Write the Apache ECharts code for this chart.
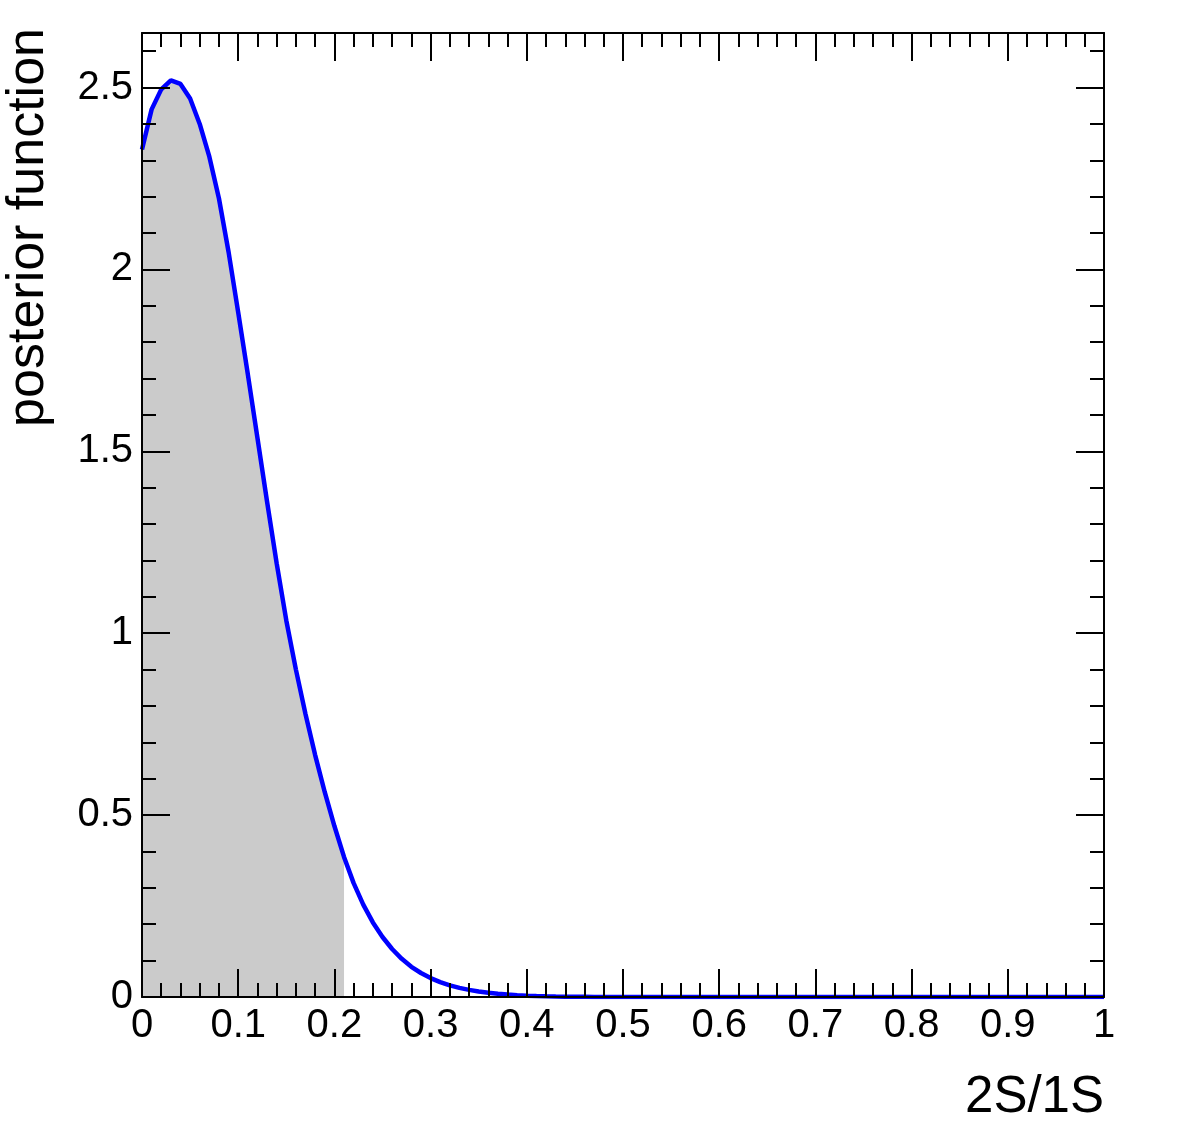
<!DOCTYPE html>
<html>
<head>
<meta charset="utf-8">
<script src="https://cdn.jsdelivr.net/npm/echarts@6/dist/echarts.min.js"></script>
<style>
html,body{margin:0;padding:0;background:#fff;}
#chart{width:1181px;height:1133px;}
</style>
</head>
<body>
<div id="chart"></div>
<script>
// ---- data ----
const xValues = [
  0.00,0.01,0.02,0.03,0.04,0.05,0.06,0.07,0.08,0.09,
  0.10,0.11,0.12,0.13,0.14,0.15,0.16,0.17,0.18,0.19,
  0.20,0.21,0.22,0.23,0.24,0.25,0.26,0.27,0.28,0.29,
  0.30,0.31,0.32,0.33,0.34,0.35,0.36,0.37,0.38,0.39,
  0.40,0.41,0.42,0.43,0.44,0.45,0.46,0.47,0.48,0.49,
  0.50,0.51,0.52,0.53,0.54,0.55,0.56,0.57,0.58,0.59,
  0.60,0.61,0.62,0.63,0.64,0.65,0.66,0.67,0.68,0.69,
  0.70,0.71,0.72,0.73,0.74,0.75,0.76,0.77,0.78,0.79,
  0.80,0.81,0.82,0.83,0.84,0.85,0.86,0.87,0.88,0.89,
  0.90,0.91,0.92,0.93,0.94,0.95,0.96,0.97,0.98,0.99,
  1.00
];
const posterior = [
  2.33,2.44,2.495,2.52,2.51,2.47,2.40,2.31,2.195,2.048,
  1.882,1.712,1.537,1.362,1.192,1.035,0.9,0.777,0.665,0.563,
  0.47,0.385,0.313,0.254,0.205,0.165,0.132,0.105,0.083,0.066,
  0.052,0.041,0.032,0.025,0.0195,0.015,0.0115,0.0088,0.0067,0.005,
  0.0037,0.0027,0.002,0.0014,0.001,0.0007,0.0005,0.0003,0.0002,0.0001,
  0,0,0,0,0,0,0,0,0,0,
  0,0,0,0,0,0,0,0,0,0,
  0,0,0,0,0,0,0,0,0,0,
  0,0,0,0,0,0,0,0,0,0,
  0,0,0,0,0,0,0,0,0,0,
  0
];
const shadeLimit = 0.21;
const xTitle = '2S/1S';
const yTitle = 'posterior function';

const curve = xValues.map((x, i) => [x, posterior[i]]);
const shaded = curve.filter(p => p[0] <= shadeLimit + 1e-9);

const FONT = '"Liberation Sans", Arial, Helvetica, sans-serif';
const axisLineStyle = { color: '#000', width: 2 };

function xAx(pos, labels) {
  return {
    type: 'value', position: pos, min: 0, max: 1, interval: 0.1, z: 10,
    axisLine: { show: true, onZero: false, lineStyle: axisLineStyle },
    axisTick: { show: true, inside: true, length: 28, lineStyle: { color: '#000', width: 2 } },
    minorTick: { show: true, splitNumber: 5, length: 14, lineStyle: { color: '#000', width: 2 } },
    axisLabel: { show: labels, color: '#000', fontSize: 40, fontFamily: FONT, margin: 9 },
    splitLine: { show: false }, minorSplitLine: { show: false }
  };
}
function yAx(pos, interval, len, line, labels) {
  return {
    type: 'value', position: pos, min: 0, max: 2.65, interval: interval, z: 10,
    axisLine: { show: line, onZero: false, lineStyle: axisLineStyle },
    axisTick: { show: true, inside: true, length: len, lineStyle: { color: '#000', width: 2 } },
    axisLabel: { show: labels, color: '#000', fontSize: 40, fontFamily: FONT, margin: 9, showMaxLabel: false },
    splitLine: { show: false }
  };
}

const chart = echarts.init(document.getElementById('chart'), null, { renderer: 'canvas' });
chart.setOption({
  animation: false,
  backgroundColor: '#fff',
  grid: { left: 142, right: 77, top: 33, bottom: 136, containLabel: false, outerBoundsMode: 'none' },
  xAxis: [xAx('bottom', true), xAx('top', false)],
  yAxis: [
    yAx('left', 0.5, 28, true, true),
    yAx('left', 0.1, 14, false, false),
    yAx('right', 0.5, 28, true, false),
    yAx('right', 0.1, 14, false, false)
  ],
  series: [
    {
      type: 'line', xAxisIndex: 0, yAxisIndex: 0, data: shaded, z: 1,
      symbol: 'none', smooth: false,
      lineStyle: { width: 0, opacity: 0 },
      areaStyle: { color: '#cbcbcb', opacity: 1 }
    },
    {
      type: 'line', xAxisIndex: 0, yAxisIndex: 0, data: curve, z: 2,
      symbol: 'none', smooth: false,
      lineStyle: { color: '#0000ff', width: 4.5 }
    }
  ],
  graphic: [
    {
      type: 'text', x: 1104, y: 1098, z: 20,
      style: { text: xTitle, font: '51px ' + FONT, fill: '#000', align: 'right', verticalAlign: 'middle' }
    },
    {
      type: 'text', x: 29, y: 28, rotation: Math.PI / 2, z: 20,
      style: { text: yTitle, font: '52px ' + FONT, fill: '#000', align: 'right', verticalAlign: 'middle' }
    }
  ]
});
</script>
</body>
</html>
